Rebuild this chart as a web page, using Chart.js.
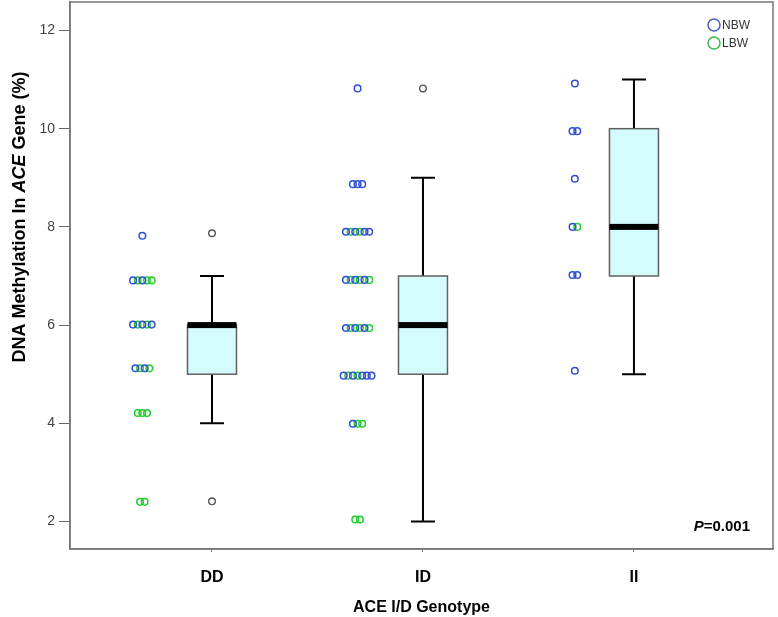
<!DOCTYPE html>
<html>
<head>
<meta charset="utf-8">
<script src="https://cdn.jsdelivr.net/npm/chart.js@4.4.0/dist/chart.umd.min.js"></script>
<style>
  html, body { margin: 0; padding: 0; background: #fff; }
</style>
</head>
<body>
<canvas id="box_chart" width="778" height="617"></canvas>
<script>
const categories = ['DD', 'ID', 'II'];
const yTicks = [2, 4, 6, 8, 10, 12];

// box plot summary per genotype
const boxMin = [4, 2, 5];
const boxQ1 = [5, 5, 7];
const boxMedian = [6, 6, 8];
const boxQ3 = [6, 7, 10];
const boxMax = [7, 9, 11];

// outliers per genotype
const outliersDD = [7.87, 2.41];
const outliersID = [10.82];
const outliersII = [];

// individual values, normal birth weight
const nbwDD = [7.82, 6.91, 6.91, 6.01, 6.01, 6.01, 5.12, 5.12];
const nbwID = [10.82, 8.87, 8.87, 8.87, 7.9, 7.9, 7.9, 7.9, 6.92, 6.92, 6.92,
    5.94, 5.94, 5.94, 4.97, 4.97, 4.97, 4.97, 4.97, 3.99];
const nbwII = [10.92, 9.95, 9.95, 8.98, 8.0, 7.02, 7.02, 5.07];

// individual values, low birth weight
const lbwDD = [6.91, 6.91, 6.91, 6.01, 6.01, 5.12, 5.12, 4.21, 4.21, 4.21, 2.40, 2.40];
const lbwID = [7.9, 7.9, 6.92, 6.92, 6.92, 5.94, 5.94, 5.94, 4.97, 4.97, 3.99, 3.99, 2.04, 2.04];
const lbwII = [8.0];

const FONT = "'Liberation Sans', Arial, sans-serif";
const dotCentre = [-0.33, -0.31, -0.28];   // dot column sits left of each box
const dotStep = 0.022;

// spread tied values side by side, alternating the two groups
const build_points = (nbwLists, lbwLists) => {
    const nbw = [], lbw = [];
    nbwLists.forEach((nbwVals, c) => {
        const lbwVals = lbwLists[c];
        const values = [...new Set([...nbwVals, ...lbwVals])];
        values.forEach((v) => {
            let nN = nbwVals.filter((d) => d === v).length;
            let nL = lbwVals.filter((d) => d === v).length;
            const n = nN + nL;
            let turn = 0;
            for (let k = 0; k < n; k++) {
                const x = c + 1 + dotCentre[c] + (k - (n - 1) / 2) * dotStep;
                if ((turn === 0 && nN > 0) || nL === 0) {
                    nbw.push({x: x, y: v}); nN--;
                } else {
                    lbw.push({x: x, y: v}); nL--;
                }
                turn = 1 - turn;
            }
        });
    });
    return [nbw, lbw];
};

const [nbwPoints, lbwPoints] = build_points([nbwDD, nbwID, nbwII], [lbwDD, lbwID, lbwII]);
const outlierPoints = [outliersDD, outliersID, outliersII]
    .flatMap((vals, c) => vals.map((v) => ({x: c + 1, y: v})));

const boxPlugin = {
    id: 'boxes',
    beforeDatasetsDraw(chart) {
        const {ctx, scales: {x, y}} = chart;
        const half = 24.5, capHalf = 12;
        ctx.save();
        categories.forEach((c, i) => {
            const cx = x.getPixelForValue(i + 1);
            const yMin = y.getPixelForValue(boxMin[i]);
            const yQ1 = y.getPixelForValue(boxQ1[i]);
            const yMed = y.getPixelForValue(boxMedian[i]);
            const yQ3 = y.getPixelForValue(boxQ3[i]);
            const yMax = y.getPixelForValue(boxMax[i]);

            ctx.strokeStyle = '#000';
            ctx.lineWidth = 2;
            ctx.beginPath();
            ctx.moveTo(cx, yMax); ctx.lineTo(cx, yQ3);
            ctx.moveTo(cx, yQ1); ctx.lineTo(cx, yMin);
            ctx.moveTo(cx - capHalf, yMax); ctx.lineTo(cx + capHalf, yMax);
            ctx.moveTo(cx - capHalf, yMin); ctx.lineTo(cx + capHalf, yMin);
            ctx.stroke();

            ctx.fillStyle = '#d5fcfc';
            ctx.fillRect(cx - half, yQ3, 2 * half, yQ1 - yQ3);
            ctx.strokeStyle = '#5f5f5f';
            ctx.lineWidth = 1.5;
            ctx.strokeRect(cx - half, yQ3, 2 * half, yQ1 - yQ3);

            ctx.fillStyle = '#000';
            ctx.fillRect(cx - half, yMed - 3, 2 * half, 6);
        });
        const a = chart.chartArea;
        ctx.strokeStyle = '#777';
        ctx.lineWidth = 1.5;
        ctx.strokeRect(a.left, a.top, a.right - a.left, a.bottom - a.top);
        ctx.restore();
    }
};

const textPlugin = {
    id: 'texts',
    afterDraw(chart) {
        const {ctx, chartArea: a} = chart;
        ctx.save();

        // legend
        [0, 1].forEach((i) => {
            const ds = chart.data.datasets[i];
            const ly = a.top + 23 + i * 18;
            ctx.beginPath();
            ctx.arc(a.right - 59, ly, 6, 0, Math.PI * 2);
            ctx.strokeStyle = ds.legendColor;
            ctx.lineWidth = 1.5;
            ctx.stroke();
            ctx.fillStyle = '#333';
            ctx.font = `12px ${FONT}`;
            ctx.textBaseline = 'middle';
            ctx.textAlign = 'left';
            ctx.fillText(ds.label, a.right - 51, ly + 0.5);
        });

        // P value
        ctx.fillStyle = '#000';
        ctx.textBaseline = 'middle';
        ctx.font = `italic bold 15px ${FONT}`;
        const pW = ctx.measureText('P').width;
        ctx.font = `bold 15px ${FONT}`;
        const restW = ctx.measureText('=0.001').width;
        const px = a.right - 23 - pW - restW;
        ctx.font = `italic bold 15px ${FONT}`;
        ctx.fillText('P', px, a.bottom - 22);
        ctx.font = `bold 15px ${FONT}`;
        ctx.fillText('=0.001', px + pW, a.bottom - 22);

        // y axis title with italic gene name
        const parts = [['DNA Methylation In ', false], ['ACE', true], [' Gene (%)', false]];
        const fontOf = (it) => `${it ? 'italic ' : ''}bold 18px ${FONT}`;
        let total = 0;
        parts.forEach(([t, it]) => { ctx.font = fontOf(it); total += ctx.measureText(t).width; });
        ctx.translate(20, 217);
        ctx.rotate(-Math.PI / 2);
        let tx = -total / 2;
        parts.forEach(([t, it]) => {
            ctx.font = fontOf(it);
            ctx.fillText(t, tx, 0);
            tx += ctx.measureText(t).width;
        });
        ctx.restore();
    }
};

const data = {
    datasets: [{
        label: 'NBW',
        data: nbwPoints,
        borderColor: '#2f4ed2',
        legendColor: '#4b5cc4',
        backgroundColor: 'rgba(0,0,0,0)',
        pointRadius: 3.3,
        borderWidth: 1.5
    }, {
        label: 'LBW',
        data: lbwPoints,
        borderColor: '#1fcc2c',
        legendColor: '#3cbb4b',
        backgroundColor: 'rgba(0,0,0,0)',
        pointRadius: 3.3,
        borderWidth: 1.5
    }, {
        label: 'Outliers',
        data: outlierPoints,
        borderColor: '#555',
        backgroundColor: 'rgba(0,0,0,0)',
        pointRadius: 3.3,
        borderWidth: 1.4
    }]
};

const config = {
    type: 'scatter',
    data: data,
    plugins: [boxPlugin, textPlugin],
    options: {
        responsive: false,
        animation: false,
        devicePixelRatio: 1,
        layout: {
            autoPadding: false,
            padding: {top: 2, right: 5, left: 0, bottom: 0}
        },
        scales: {
            x: {
                type: 'linear',
                min: 0.327,
                max: 3.659,
                afterBuildTicks: (s) => { s.ticks = categories.map((c, i) => ({value: i + 1})); },
                afterFit: (s) => { s.height = 68; s.paddingLeft = 0; s.paddingRight = 0; },
                ticks: {
                    callback: (v) => categories[v - 1],
                    font: {family: FONT, size: 16, weight: 'bold'},
                    color: '#000',
                    padding: 16,
                    maxRotation: 0,
                    autoSkip: false
                },
                grid: {drawOnChartArea: false, drawTicks: true, tickLength: 3, color: '#777'},
                border: {color: '#777', width: 1.5},
                title: {
                    display: true,
                    text: 'ACE I/D Genotype',
                    font: {family: FONT, size: 16, weight: 'bold'},
                    color: '#000',
                    padding: {top: 0, bottom: 0}
                }
            },
            y: {
                min: 1.44,
                max: 12.58,
                afterBuildTicks: (s) => { s.ticks = yTicks.map((v) => ({value: v})); },
                afterFit: (s) => { s.width = 70; s.paddingTop = 0; s.paddingBottom = 0; },
                ticks: {
                    font: {family: FONT, size: 14},
                    color: '#444',
                    padding: 4
                },
                grid: {drawOnChartArea: false, drawTicks: true, tickLength: 11, color: '#666'},
                border: {color: '#777', width: 1.5}
            }
        },
        plugins: {
            legend: {display: false},
            tooltip: {enabled: false}
        }
    }
};

var ctx_box = document.getElementById("box_chart");
var box_chart = new Chart(ctx_box, config);
</script>
</body>
</html>
